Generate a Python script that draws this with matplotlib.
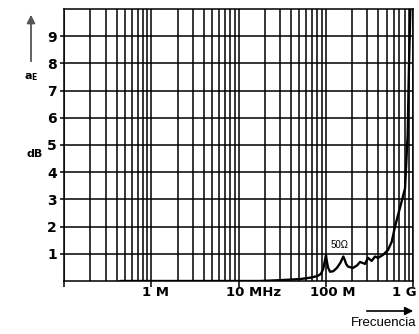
import matplotlib
matplotlib.use('Agg')
import matplotlib.pyplot as plt
import matplotlib.transforms as mtransforms
import numpy as np

# ---- data ----
freq_mhz = [0.44, 17.6, 29.9, 50.7, 66, 80, 88, 93.7, 97, 100.6, 103, 106, 112,
            122, 134, 146, 159, 165, 171, 180, 205, 230, 247, 282, 305, 336,
            367, 397, 453, 517, 570, 622, 710, 810, 869, 899, 936]
atten_db = [0.0, 0.0, 0.03, 0.07, 0.12, 0.18, 0.26, 0.45, 0.7, 0.95, 0.72, 0.5, 0.34,
            0.36, 0.48, 0.65, 0.9, 0.78, 0.63, 0.53, 0.48, 0.58, 0.7, 0.63, 0.85, 0.74,
            0.9, 0.85, 0.96, 1.14, 1.44, 2.0, 2.7, 3.4, 5.4, 7.9, 10.2]
y_ticks = [1, 2, 3, 4, 5, 6, 7, 8, 9]
x_decades = [1e5, 1e6, 1e7, 1e8, 1e9]
x_label_text = ['1 M', '10 MHz', '100 M', '1 G']
x_label_pos = [1.12e6, 1.5e7, 1.21e8, 7.9e8]

W, H = 419, 334
fig = plt.figure(figsize=(W / 100, H / 100), dpi=100)
ax = fig.add_axes([64 / W, 1 - 281 / H, 349 / W, 272 / H])
ax.set_xscale('log')
ax.set_xlim(1e5, 1e9)
ax.set_ylim(0, 10)

# grid
minor_x = [m * 10 ** e for e in range(5, 9) for m in range(2, 10)]
ax.set_xticks(x_decades)
ax.set_xticks(minor_x, minor=True)
ax.set_xticklabels([''] * len(x_decades))
ax.set_xticklabels([], minor=True)
ax.set_yticks(y_ticks)
ax.set_yticklabels([str(v) for v in y_ticks], fontweight='bold', fontsize=10,
                   family=['DejaVu Sans'])
ax.grid(True, which='both', axis='x', color='black', lw=1.1)
ax.grid(True, which='major', axis='y', color='black', lw=1.1)
ax.tick_params(axis='x', which='major', direction='out', length=4, width=1.1)
ax.tick_params(axis='x', which='minor', length=0)
ax.tick_params(axis='y', which='major', direction='out', length=3, width=1.1, pad=2)
for s in ax.spines.values():
    s.set_linewidth(1.1)

ax.plot(np.array(freq_mhz) * 1e6, atten_db, color='black', lw=1.7,
        solid_joinstyle='round', solid_capstyle='round', zorder=5)

# x labels
trans = mtransforms.blended_transform_factory(ax.transData, fig.transFigure)
for t, p in zip(x_label_text, x_label_pos):
    ax.text(p, 1 - 293 / H, t, transform=trans, ha='center', va='center',
            fontweight='bold', fontsize=9.5, family=['DejaVu Sans'])

ax.text(1.45e8, 1.32, '50\u03a9', fontsize=7, ha='center', va='center',
        family=['Liberation Sans', 'DejaVu Sans'], zorder=6)

# left annotations
fig.patches.append(matplotlib.patches.FancyArrowPatch(
    (31 / W, 1 - 64 / H), (31 / W, 1 - 12 / H), transform=fig.transFigure,
    arrowstyle='-|>', mutation_scale=12, color='#555555', lw=1.3))
fig.text(31 / W, 1 - 77 / H, r'$\mathbf{a}_{\mathbf{E}}$', ha='center', va='center',
         fontsize=8)
fig.text(35 / W, 1 - 154 / H, 'dB', ha='center', va='center', fontweight='bold',
         fontsize=8, family=['DejaVu Sans'])

# bottom-right arrow and label
fig.patches.append(matplotlib.patches.FancyArrowPatch(
    (364 / W, 1 - 311 / H), (416 / W, 1 - 311 / H), transform=fig.transFigure,
    arrowstyle='-|>', mutation_scale=12, color='black', lw=1.2))
fig.text(416 / W, 1 - 323 / H, 'Frecuencia', ha='right', va='center', fontsize=9.5,
         family=['Liberation Sans', 'DejaVu Sans'])

fig.savefig('out.png', dpi=100)
